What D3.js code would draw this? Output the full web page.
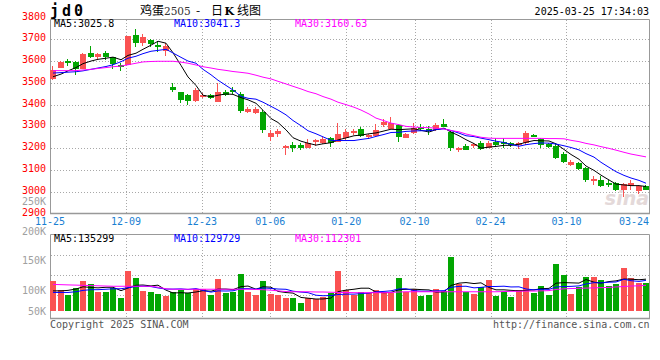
<!DOCTYPE html>
<html>
<head>
<meta charset="utf-8">
<script src="https://cdn.jsdelivr.net/npm/d3@7/dist/d3.min.js"></script>
<style>
html,body{margin:0;padding:0;background:#fff;}
svg{display:block;}
text{font-family:"DejaVu Sans Mono","Liberation Mono",monospace;font-size:10px;}
</style>
</head>
<body>
<svg id="chart" width="660" height="360"></svg>
<script>
// ---------- data ----------
const dates = ["11-25","11-26","11-27","11-28","11-29","12-02","12-03","12-04","12-05","12-06",
"12-09","12-10","12-11","12-12","12-13","12-16","12-17","12-18","12-19","12-20",
"12-23","12-24","12-25","12-26","12-27","12-30","12-31","01-02","01-03","01-06",
"01-07","01-08","01-09","01-10","01-13","01-14","01-15","01-16","01-17","01-20",
"01-21","01-22","01-23","01-24","01-27","02-05","02-06","02-07","02-10","02-11",
"02-12","02-13","02-14","02-17","02-18","02-19","02-20","02-21","02-24","02-25",
"02-26","02-27","02-28","03-03","03-04","03-05","03-06","03-07","03-10","03-11",
"03-12","03-13","03-14","03-17","03-18","03-19","03-20","03-21","03-24","03-25"];

const open  = [3518,3570,3597,3596,3564,3637,3617,3639,3617,3580,
3582,3720,3685,3697,3667,3648,3479,3458,3444,3416,
3436,3446,3413,3459,3461,3449,3367,3363,3367,3249,
3265,3203,3216,3213,3203,3228,3222,3245,3228,3245,
3271,3286,3249,3256,3306,3286,3305,3245,3268,3295,
3288,3283,3309,3275,3193,3210,3208,3222,3203,3230,
3225,3226,3213,3222,3262,3240,3219,3211,3173,3122,
3133,3110,3050,3056,3041,3038,3007,3026,3004,3026];
const high  = [3577,3602,3608,3600,3636,3669,3639,3648,3620,3593,
3717,3745,3725,3700,3689,3682,3501,3458,3449,3475,
3452,3449,3501,3467,3479,3459,3387,3387,3375,3283,
3286,3213,3230,3222,3240,3240,3252,3249,3314,3289,
3289,3295,3265,3311,3332,3341,3311,3268,3317,3311,
3302,3314,3332,3283,3207,3219,3222,3234,3234,3245,
3245,3230,3230,3280,3265,3245,3225,3222,3184,3145,
3138,3115,3072,3072,3053,3046,3038,3056,3030,3030];
const low   = [3515,3570,3577,3538,3564,3616,3608,3603,3562,3556,
3582,3663,3671,3666,3643,3625,3456,3409,3398,3412,
3429,3424,3413,3440,3449,3360,3360,3357,3271,3234,
3249,3168,3184,3191,3203,3210,3219,3206,3228,3237,
3260,3249,3240,3256,3298,3286,3230,3245,3265,3280,
3260,3280,3295,3188,3182,3191,3200,3191,3203,3210,
3199,3206,3194,3214,3249,3203,3203,3148,3130,3118,
3102,3046,3030,3023,3020,3004,2977,3010,2989,3007];
const close = [3559,3594,3591,3564,3631,3619,3633,3620,3587,3571,
3717,3685,3712,3679,3664,3669,3467,3421,3416,3467,
3444,3432,3458,3444,3456,3371,3381,3378,3283,3268,
3280,3210,3200,3200,3226,3232,3240,3225,3265,3274,
3279,3256,3256,3283,3321,3317,3249,3265,3291,3286,
3279,3305,3298,3203,3199,3191,3214,3194,3225,3214,
3219,3214,3219,3271,3253,3214,3207,3156,3138,3138,
3105,3053,3056,3026,3029,3010,3035,3038,3027,3010];

const ma5  = [3528,3540,3555,3570,3588,3600,3608,3613,3618,3606,
3626,3636,3654,3673,3691,3682,3638,3580,3527,3488,
3443,3436,3443,3449,3447,3432,3422,3406,3374,3336,
3318,3284,3248,3232,3223,3214,3220,3225,3238,3247,
3257,3260,3266,3270,3279,3287,3285,3287,3289,3282,
3274,3285,3292,3274,3257,3239,3221,3200,3205,3208,
3213,3213,3218,3227,3235,3234,3233,3220,3194,3171,
3149,3118,3098,3076,3054,3035,3031,3028,3028,3024];
const ma10 = [3545,3547,3549,3551,3555,3562,3568,3575,3583,3597,
3613,3622,3634,3645,3649,3654,3637,3617,3600,3590,
3562,3537,3512,3488,3467,3438,3429,3425,3411,3392,
3375,3353,3327,3303,3280,3266,3252,3236,3235,3235,
3235,3240,3245,3254,3263,3272,3273,3277,3279,3280,
3280,3285,3289,3281,3269,3257,3253,3246,3239,3232,
3226,3217,3209,3216,3221,3224,3223,3219,3211,3203,
3192,3175,3159,3135,3112,3092,3075,3063,3052,3039];
const ma30 = [3556,3556,3556,3556,3559,3562,3566,3570,3574,3577,
3583,3590,3596,3598,3599,3599,3599,3595,3590,3582,
3574,3568,3562,3557,3552,3548,3544,3535,3526,3518,
3507,3495,3484,3472,3460,3450,3437,3425,3411,3400,
3388,3375,3357,3338,3326,3315,3308,3300,3297,3295,
3294,3292,3288,3281,3275,3265,3257,3250,3246,3245,
3245,3245,3245,3245,3245,3245,3244,3244,3243,3236,
3230,3222,3215,3207,3199,3191,3181,3173,3166,3160];

const volume = [132000,92000,70000,102000,132000,118000,83000,83000,102000,58000,
176000,144000,87000,83000,74000,67000,83000,92000,77000,96000,
96000,70000,140000,77000,83000,162000,83000,70000,131000,74000,
70000,58000,58000,36000,58000,51000,60000,77000,176000,92000,
70000,83000,77000,92000,77000,77000,144000,83000,96000,67000,
70000,96000,87000,237000,118000,83000,74000,103000,135000,67000,
83000,63000,92000,144000,79000,109000,70000,205000,157000,74000,
103000,148000,148000,135000,109000,118000,188000,144000,124000,121000];
const volMa5 = [88000,88000,90000,96000,105600,102800,101000,103600,103600,88800,
100400,112600,113400,109600,112800,91000,78800,79800,78600,83000,
88800,86200,95800,95800,93200,106400,109000,95000,105800,104000,
85600,80600,78200,59200,56000,52200,52600,56400,84400,91200,
95000,99600,99600,82800,79800,81200,93400,94600,95400,93400,
92000,82400,83200,111400,121600,124200,119800,123000,102600,92400,
92400,90200,88000,89800,92200,97400,98800,121400,124000,123000,
121800,137400,126000,121600,128600,131600,139600,138800,136600,139000];
const volMa10 = [81000,81000,81000,84000,90000,93000,93000,95000,97000,97200,
101600,106800,108500,106600,100800,95700,95700,96600,94100,97900,
89900,82500,87800,87200,88100,97600,97600,95400,100800,98600,
96000,94800,86600,82500,80000,68900,66600,67300,71800,73600,
73600,76100,78000,83600,85500,88100,96500,97100,89100,86600,
86600,87900,88900,103400,107500,108100,101100,103100,107000,107000,
108300,105000,105500,96200,92300,94900,94500,104700,106900,107600,
109600,118100,123700,122800,125800,126700,138500,132400,129100,133800];
const volMa30 = [116000,115000,114000,113000,112000,111000,110000,109000,108000,108000,
108000,108000,108000,108000,104000,97000,95000,95000,95000,95000,
95000,95000,95000,95000,95000,95000,95000,94000,93000,91000,
88000,85000,84000,84000,84000,83000,83000,82000,81000,81000,
80000,80000,80000,80000,80000,81000,83000,84000,84000,84000,
84000,84000,84000,84000,84000,84000,84000,84000,84000,84000,
85000,86000,86000,87000,87000,88000,89000,94000,97000,98000,
99000,100000,101000,102000,103000,105000,107000,109000,110000,112300];

const priceTicks = [3800,3700,3600,3500,3400,3300,3200,3100,3000,2900];
const volTicks = [250000,200000,150000,100000,50000];
const dateTicks = ["11-25","12-09","12-23","01-06","01-20","02-10","02-24","03-10","03-24"];
const maNames = ["MA5","MA10","MA30"];
const maHeader = ["3025.8","3041.3","3160.63"];
const volMaHeader = ["135299","129729","112301"];
const symbol = "jd0";
const stamp = "2025-03-25 17:34:03";

// ---------- layout ----------
const svg = d3.select("#chart");
const n = dates.length;
const RED = "#fa5252", GREEN = "#02a602", GRID = "#a8a8a8", FRAME = "#999";
const maColors = ["#000000","#0000ff","#ff00ff"];

const xb = d3.scaleBand().domain(d3.range(n)).range([49.5, 650]);
const xt = d3.scaleLinear().domain([0, n - 1]).range([50, 650]);
const barW = 6;
const left = i => Math.round(xb(i) + (xb.bandwidth() - barW) / 2);
const cx = i => left(i) + barW / 2;

const yP = d3.scaleLinear().domain([2900, 3800]).range([213.5, 17.5]);
const yV = d3.scaleLinear().domain([0, 100000]).range([311, 288.1]);
const yVL = d3.scaleLinear().domain([100000, 200000]).range([290, 231]);

// ---------- grid ----------
const grid = svg.append("g").attr("stroke", GRID).attr("stroke-dasharray", "1,2").attr("fill", "none");
priceTicks.filter(v => v < 3800 && v > 2900).forEach(v => {
  const y = Math.round(yP(v)) + 0.5;
  grid.append("line").attr("x1", 51).attr("x2", 649).attr("y1", y).attr("y2", y);
});
dateTicks.slice(1, -1).forEach(d => {
  const x = Math.round(xt(dates.indexOf(d))) + 0.5;
  grid.append("line").attr("x1", x).attr("x2", x).attr("y1", 20).attr("y2", 213);
  grid.append("line").attr("x1", x).attr("x2", x).attr("y1", 235).attr("y2", 318);
});
[1, 2, 3].forEach(k => {
  const y = 235.5 + 20 * k;
  grid.append("line").attr("x1", 51).attr("x2", 649).attr("y1", y).attr("y2", y);
});

// ---------- watermark ----------
svg.append("text").attr("x", 649).attr("y", 205).attr("text-anchor", "end")
  .style("font-family", "DejaVu Sans").style("font-size", "19px").style("font-style", "italic")
  .style("font-weight", "bold").attr("fill", "#e4d9d9").text("sina");

// ---------- frames ----------
const fr = svg.append("g").attr("stroke", FRAME).attr("fill", "none").attr("stroke-width", 1);
fr.append("path").attr("d", "M50.5,213.5V19.5H649.5V213.5");
fr.append("line").attr("x1", 50).attr("x2", 650).attr("y1", 213.5).attr("y2", 213.5).attr("stroke-width", 1.4);
fr.append("path").attr("d", "M50.5,318.5V234.5H649.5V318.5");
fr.append("line").attr("x1", 50).attr("x2", 650).attr("y1", 318.5).attr("y2", 318.5).attr("stroke-width", 1.4);

// ---------- candles ----------
const cg = svg.append("g");
d3.range(n).forEach(i => {
  const up = close[i] >= open[i];
  const col = up ? RED : GREEN;
  const l = left(i);
  const yh = Math.round(yP(high[i])), yl = Math.round(yP(low[i]));
  cg.append("rect").attr("x", l + 2).attr("y", yh).attr("width", 1).attr("height", Math.max(1, yl - yh)).attr("fill", col);
  const yt = Math.round(yP(Math.max(open[i], close[i])));
  const yb = Math.round(yP(Math.min(open[i], close[i])));
  const h = Math.max(2, yb - yt);
  cg.append("rect").attr("x", l).attr("y", yb - h).attr("width", barW).attr("height", h).attr("fill", col);
});

// ---------- price MA lines ----------
[ma5, ma10, ma30].forEach((arr, k) => {
  svg.append("path").datum(arr)
    .attr("d", d3.line().x((d, i) => cx(i)).y(d => yP(d)))
    .attr("fill", "none").attr("stroke", maColors[k]).attr("stroke-width", 1);
});

// ---------- volume bars ----------
const vg = svg.append("g");
d3.range(n).forEach(i => {
  const up = close[i] >= open[i];
  const y = Math.round(yV(volume[i]));
  vg.append("rect").attr("x", left(i)).attr("y", y).attr("width", barW)
    .attr("height", yV(0) - y).attr("fill", up ? RED : GREEN);
});
[volMa5, volMa10, volMa30].forEach((arr, k) => {
  svg.append("path").datum(arr)
    .attr("d", d3.line().x((d, i) => cx(i)).y(d => yV(d)))
    .attr("fill", "none").attr("stroke", maColors[k]).attr("stroke-width", 1);
});

// ---------- axis labels ----------
priceTicks.forEach(v => {
  svg.append("text").attr("x", 46).attr("y", yP(v) + 2).attr("text-anchor", "end")
    .attr("fill", "#ff0000").text(v);
});
volTicks.forEach(v => {
  svg.append("text").attr("x", 46).attr("y", Math.min(yVL(v), yV(0)) + 3.6).attr("text-anchor", "end")
    .attr("fill", "#a0a0a0").text(v / 1000 + "K");
});
dateTicks.forEach(d => {
  let x = xt(dates.indexOf(d));
  x = Math.min(x, 649 - 15);
  svg.append("text").attr("x", x).attr("y", 225.3).attr("text-anchor", "middle")
    .attr("fill", "#1a80d2").text(d);
});

// ---------- headers ----------
const hx = [54, 174, 295];
maNames.forEach((m, k) => {
  svg.append("text").attr("x", hx[k]).attr("y", 27).attr("fill", maColors[k]).text(m + ":" + maHeader[k]);
  svg.append("text").attr("x", hx[k]).attr("y", 242).attr("fill", maColors[k]).text(m + ":" + volMaHeader[k]);
});

svg.append("text").attr("x", 50).attr("y", 16).style("font-size", "15px").style("font-weight", "bold")
  .style("letter-spacing", "3px").attr("fill", "#000").text(symbol);

// title: 鸡蛋2505 - 日K线图
const t = svg.append("text").attr("y", 14.5)
  .style("font-family", "'Noto Sans CJK SC', sans-serif").style("font-size", "12px").attr("fill", "#000");
t.append("tspan").attr("x", 140).text("鸡蛋");
t.append("tspan").attr("x", 164).style("font-family", "'DejaVu Serif', serif").style("font-size", "10.5px").attr("fill", "#333").text("2505");
t.append("tspan").attr("x", 196).text("-");
t.append("tspan").attr("x", 211).text("日");
t.append("tspan").attr("x", 224.5).style("font-family", "'DejaVu Serif', serif").style("font-weight", "bold").style("font-size", "11px").text("K");
t.append("tspan").attr("x", 237).text("线图");

svg.append("text").attr("x", 649).attr("y", 15).attr("text-anchor", "end").attr("fill", "#000").text(stamp);

svg.append("text").attr("x", 50).attr("y", 327.5).attr("fill", "#555").text("Copyright 2025 SINA.COM");
svg.append("text").attr("x", 649.5).attr("y", 327.5).attr("text-anchor", "end").attr("fill", "#555").text("http://finance.sina.com.cn");
</script>
</body>
</html>
